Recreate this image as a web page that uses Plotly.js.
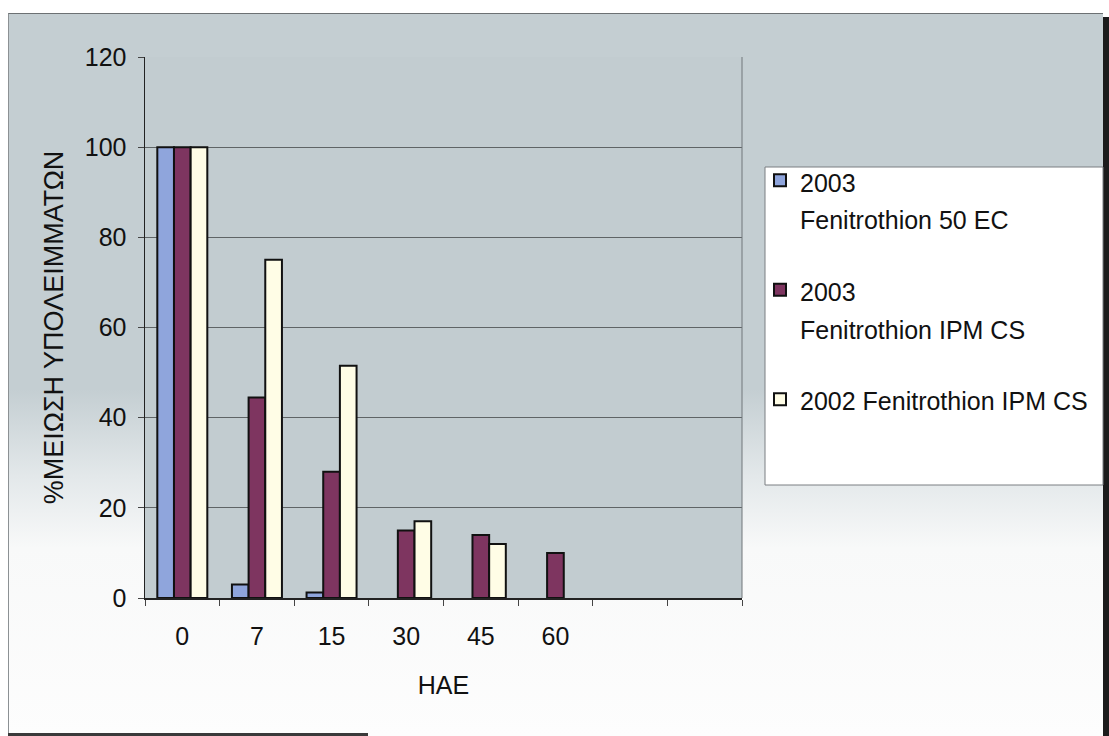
<!DOCTYPE html>
<html>
<head>
<meta charset="utf-8">
<script src="https://cdn.plot.ly/plotly-3.0.1.min.js"></script>
<style>
  html, body { margin: 0; padding: 0; background: #ffffff; }
  #frame {
    position: absolute; left: 8px; top: 13px; width: 1095px; height: 723px;
    background: linear-gradient(to bottom, #c4ced2 0%, #c4ced2 52%, #e3e8ea 64%, #f8f9f9 74%, #fdfdfd 100%);
    border-left: 1px solid #8c9194; border-top: 1px solid #6c7173;
    box-sizing: border-box;
  }
  #edgeRight { position: absolute; left: 1103px; top: 17px; width: 6px; height: 719px; background: #1c1c1c; }
  #edgeBottom { position: absolute; left: 8px; top: 733px; width: 360px; height: 3px; background: #3a3a3a; }
  #chart { position: absolute; left: 0; top: 0; width: 1109px; height: 736px; }
</style>
</head>
<body>
<div id="frame"></div>
<div id="edgeRight"></div>
<div id="edgeBottom"></div>
<div id="chart"></div>
<script>
// Days after application (ΗΑΕ); the last two slots stay empty on the axis
const categories = ["0", "7", "15", "30", "45", "60", "\u00a0", "\u00a0\u00a0"];
const measuredDays = ["0", "7", "15", "30", "45", "60"];

// % reduction of residues per formulation
const ec2003 = [100, 3, 1.2, null, null, null];
const cs2003 = [100, 44.5, 28, 15, 14, 10];
const cs2002 = [100, 75, 51.5, 17, 12, null];

const seriesNames = [
  "2003<br>Fenitrothion 50 EC",
  "2003<br>Fenitrothion IPM CS",
  "2002 Fenitrothion IPM CS"
];
const seriesColors = ["#8fa5dc", "#7e3560", "#fffde6"];

const FONT = "Liberation Sans, Arial, sans-serif";
const TEXT_PX = 25;

// Legend lines are spaced wider than the text size, so the entry font is
// larger and each line carries its own smaller size.
function legendLabel(name) {
  return name.split("<br>")
    .map(s => `<span style="font-size:${TEXT_PX}px">${s}</span>`)
    .join("<br>");
}

const valuesList = [ec2003, cs2003, cs2002];
const traces = valuesList.map((vals, i) => ({
  type: "bar",
  x: measuredDays,
  y: vals,
  name: legendLabel(seriesNames[i]),
  legendgroup: "g" + i,
  marker: { color: seriesColors[i], line: { color: "#111111", width: 2 } },
  hoverinfo: "skip"
}));

// plot area in pixels
const W = 1109, H = 736;
const M = { l: 145, r: 367, t: 57, b: 138 };
const pw = W - M.l - M.r, ph = H - M.t - M.b;
const px = x => (x - M.l) / pw;
const py = y => (H - M.b - y) / ph;

const layout = {
  width: W, height: H,
  margin: M,
  paper_bgcolor: "rgba(0,0,0,0)",
  plot_bgcolor: "#c2ccd0",
  font: { family: FONT, color: "#111111", size: TEXT_PX },
  barmode: "group",
  bargap: 0.33,
  bargroupgap: 0,
  showlegend: true,
  legend: {
    xref: "container", yref: "container",
    x: 760 / W, y: 1 - 155 / H,
    xanchor: "left", yanchor: "top",
    bgcolor: "rgba(0,0,0,0)",
    borderwidth: 0,
    font: { family: FONT, size: 29, color: "#111111" },
    valign: "top",
    traceorder: "grouped",
    tracegroupgap: 31
  },
  xaxis: {
    type: "category",
    categoryorder: "array",
    categoryarray: categories,
    range: [-0.5, categories.length - 0.5],
    tickson: "boundaries",
    ticks: "outside", ticklen: 6, tickcolor: "#444444", tickwidth: 1,
    ticklabelstandoff: 15,
    showline: true, linecolor: "#222222", linewidth: 1.5,
    showgrid: false,
    tickfont: { family: FONT, size: TEXT_PX, color: "#111111" },
    title: { text: "HAE", font: { family: FONT, size: TEXT_PX, color: "#111111" }, standoff: 28 },
    fixedrange: true
  },
  yaxis: {
    range: [0, 120],
    dtick: 20,
    ticks: "outside", ticklen: 6, tickcolor: "#444444", tickwidth: 1,
    ticklabelstandoff: 6,
    showline: true, linecolor: "#222222", linewidth: 1.5,
    showgrid: true, gridcolor: "#5f6466", gridwidth: 1,
    zeroline: false,
    tickfont: { family: FONT, size: TEXT_PX, color: "#111111" },
    title: { text: "%ΜΕΙΩΣΗ ΥΠΟΛΕΙΜΜΑΤΩΝ", font: { family: FONT, size: 27, color: "#111111" }, standoff: 13 },
    fixedrange: true
  },
  shapes: [
    // right edge of the plot area
    { type: "line", xref: "paper", yref: "paper", x0: 1, x1: 1, y0: 0, y1: 1,
      line: { color: "#70767a", width: 1 } },
    // legend box
    { type: "rect", xref: "paper", yref: "paper", layer: "below",
      x0: px(765), x1: px(1103), y0: py(485), y1: py(167),
      fillcolor: "#ffffff", line: { color: "#7a7f82", width: 1 } }
  ]
};

Plotly.newPlot("chart", traces, layout, { displayModeBar: false, staticPlot: true });
</script>
</body>
</html>
